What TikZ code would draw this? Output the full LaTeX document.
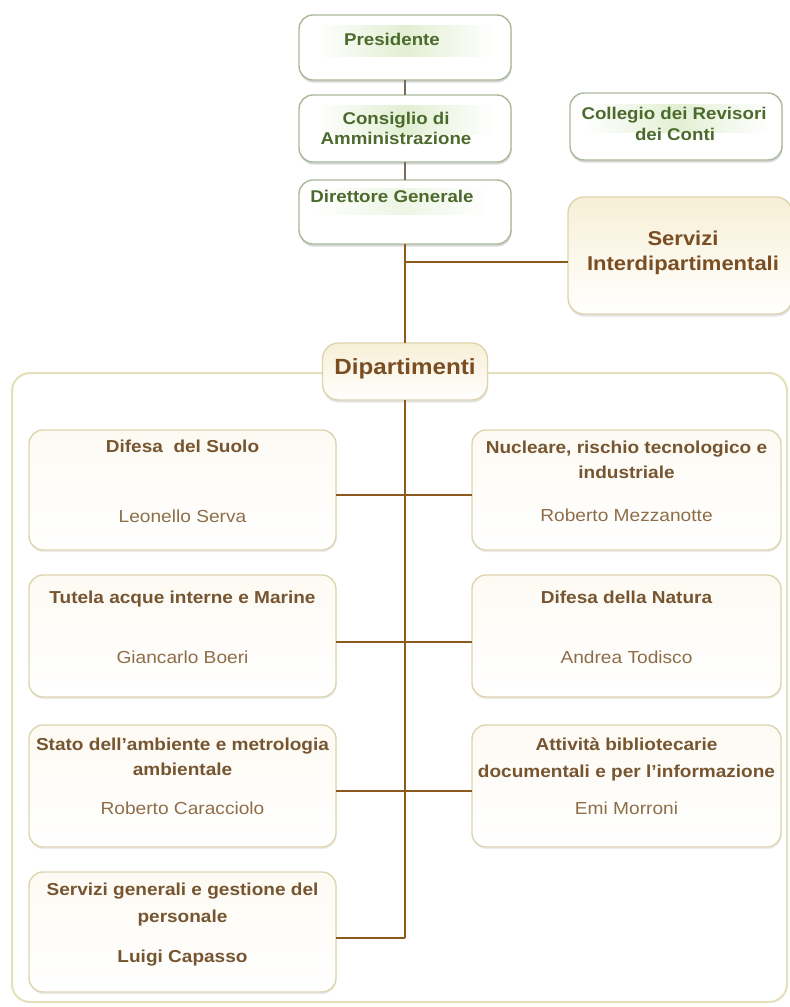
\documentclass[tikz,border=0pt]{standalone}
\usepackage{fontspec}
\setmainfont{Liberation Sans}[FakeStretch=1.1]
\usetikzlibrary{shadows}

\definecolor{greenline}{HTML}{A9B99A}
\definecolor{greentext}{HTML}{4B6A2C}
\definecolor{greenband}{HTML}{E2EFD3}
\definecolor{khaki}{HTML}{DCD5AE}
\definecolor{framec}{HTML}{E4E0BA}
\definecolor{cream}{HTML}{F7EFD6}
\definecolor{brownline}{HTML}{8C5A1F}
\definecolor{greyline}{HTML}{7A6C58}
\definecolor{titlec}{HTML}{765530}
\definecolor{namec}{HTML}{8E6E48}
\definecolor{headc}{HTML}{7A4E22}

\tikzset{
  greenbox/.style={draw=greenline, line width=1.4pt, fill=white, rounded corners=14pt,
    inner sep=0pt, outer sep=0pt,
    drop shadow={shadow xshift=0.5pt, shadow yshift=-2.5pt, opacity=0.25, fill=black!60}},
  headbox/.style={draw=khaki, line width=1.4pt, top color=cream, bottom color=white,
    rounded corners=16pt, inner sep=0pt, outer sep=0pt,
    drop shadow={shadow xshift=0.5pt, shadow yshift=-2.5pt, opacity=0.18, fill=black!60}},
  deptbox/.style={draw=khaki, line width=1.4pt, top color=cream!30, bottom color=white,
    rounded corners=14pt, inner sep=0pt, outer sep=0pt,
    drop shadow={shadow xshift=0.5pt, shadow yshift=-2pt, opacity=0.12, fill=black!60}},
  conn/.style={draw=brownline, line width=2.6pt},
  topconn/.style={draw=greyline, line width=2.6pt},
  txt/.style={inner sep=0pt, anchor=mid},
  gtxt/.style={txt, text=greentext, font=\bfseries\fontsize{17}{20}\selectfont},
  ttl/.style={txt, text=titlec, font=\bfseries\fontsize{17.3}{20}\selectfont},
  nm/.style={txt, text=namec, font=\fontsize{17.4}{20}\selectfont},
  head/.style={txt, text=headc, font=\bfseries\fontsize{20}{24}\selectfont},
}

\begin{document}
\begin{tikzpicture}[x=1pt,y=-1pt]
\useasboundingbox (0,0) rectangle (790,1007);
\fill[white] (0,0) rectangle (790,1007);

% outer frame of the departments area
\draw[framec, line width=2pt, rounded corners=18pt] (12,373) rectangle (787,1002);

% governing bodies
\node[greenbox, minimum width=212pt, minimum height=65pt] (pres) at (405,47.5) {};
\node[greenbox, minimum width=212pt, minimum height=67pt] (cons) at (405,128.5) {};
\node[greenbox, minimum width=212pt, minimum height=64pt] (dir)  at (405,212) {};
\node[greenbox, minimum width=212pt, minimum height=67pt] (coll) at (676,126.5) {};

% light bands behind the titles
\shade[left color=white, right color=white, middle color=greenband] (317,25) rectangle (493,56);
\shade[left color=white, right color=white, middle color=greenband] (317,105) rectangle (493,134);
\shade[left color=white, right color=white, middle color=greenband!60] (312,188) rectangle (490,214);
\shade[left color=white, right color=white, middle color=greenband] (585,104) rectangle (770,132);

% services and departments headers
\node[headbox, minimum width=224pt, minimum height=117pt] (serv) at (680,255.5) {};
\node[headbox, minimum width=165pt, minimum height=57pt] (dip) at (405,371.5) {};

% departments
\node[deptbox, minimum width=307pt, minimum height=120pt] (d1) at (182.5,490) {};
\node[deptbox, minimum width=309pt, minimum height=120pt] (n1) at (626.5,490) {};
\node[deptbox, minimum width=307pt, minimum height=122pt] (d2) at (182.5,636) {};
\node[deptbox, minimum width=309pt, minimum height=122pt] (n2) at (626.5,636) {};
\node[deptbox, minimum width=307pt, minimum height=122pt] (d3) at (182.5,786) {};
\node[deptbox, minimum width=309pt, minimum height=122pt] (n3) at (626.5,786) {};
\node[deptbox, minimum width=307pt, minimum height=120pt] (d4) at (182.5,932) {};

% connectors
\coordinate (j0) at (405,262);
\coordinate (jend) at (405,938);
\draw[topconn] (pres) -- (cons);
\draw[topconn] (cons) -- (dir);
\draw[conn] (dir) -- (dip);
\draw[conn] (j0) -- (j0 -| serv.west);
\draw[conn] (dip) -- (jend);
\draw[conn] ([yshift=-5pt]d1.east) -- ([yshift=-5pt]n1.west);
\draw[conn] ([yshift=-6pt]d2.east) -- ([yshift=-6pt]n2.west);
\draw[conn] ([yshift=-5pt]d3.east) -- ([yshift=-5pt]n3.west);
\draw[conn] (d4.east |- jend) -- (jend);

% texts
\node[gtxt] (t-pres) at (392,43) {Presidente};
\node[gtxt] (t-cons1) at (396,122) {Consiglio di};
\node[gtxt] (t-cons2) at (396,142) {Amministrazione};
\node[gtxt] (t-dir) at (392,200) {Direttore Generale};
\node[gtxt] (t-coll1) at (674,117) {Collegio dei Revisori};
\node[gtxt] (t-coll2) at (675,138) {dei Conti};

\node[head] (t-serv1) at (683,243) {Servizi};
\node[head] (t-serv2) at (683,268) {Interdipartimentali};
\node[head, font=\bfseries\fontsize{22}{26}\selectfont] (t-dip) at (405,372) {Dipartimenti};

\node[ttl] (t-d1) at (182.5,450) {Difesa\ \ del Suolo};
\node[nm]  (p-d1) at (182.5,520) {Leonello Serva};
\node[ttl] (t-n1a) at (626.5,451) {Nucleare, rischio tecnologico e};
\node[ttl] (t-n1b) at (626.5,476) {industriale};
\node[nm]  (p-n1) at (626.5,519) {Roberto Mezzanotte};

\node[ttl] (t-d2) at (182.5,601) {Tutela acque interne e Marine};
\node[nm]  (p-d2) at (182.5,661) {Giancarlo Boeri};
\node[ttl] (t-n2) at (626.5,601) {Difesa della Natura};
\node[nm]  (p-n2) at (626.5,661) {Andrea Todisco};

\node[ttl] (t-d3a) at (182.5,748) {Stato dell'ambiente e metrologia};
\node[ttl] (t-d3b) at (182.5,773) {ambientale};
\node[nm]  (p-d3) at (182.5,812) {Roberto Caracciolo};
\node[ttl] (t-n3a) at (626.5,748) {Attività bibliotecarie};
\node[ttl] (t-n3b) at (626.5,775) {documentali e per l'informazione};
\node[nm]  (p-n3) at (626.5,812) {Emi Morroni};

\node[ttl] (t-d4a) at (182.5,893) {Servizi generali e gestione del};
\node[ttl] (t-d4b) at (182.5,920) {personale};
\node[ttl] (p-d4) at (182.5,960) {Luigi Capasso};
\end{tikzpicture}
\end{document}
